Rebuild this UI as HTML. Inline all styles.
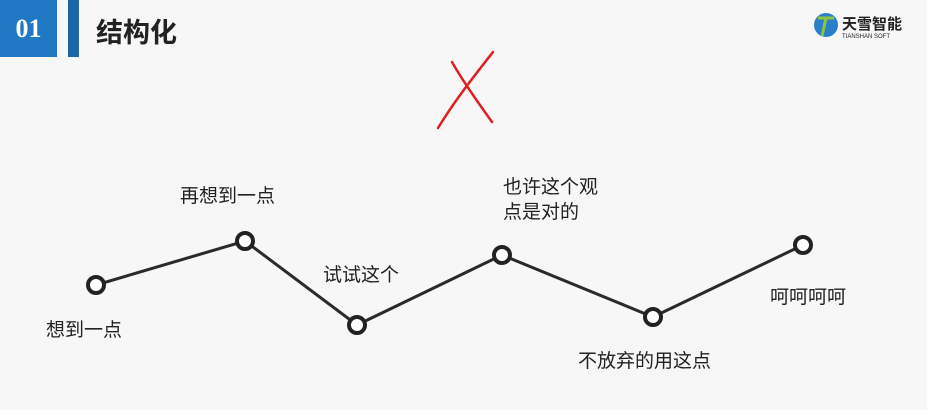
<!DOCTYPE html>
<html><head><meta charset="utf-8"><style>
body{margin:0;width:927px;height:410px;background:#f7f7f7;overflow:hidden;position:relative;font-family:"Liberation Sans","Noto Sans CJK SC",sans-serif}
.t{position:absolute;font-size:19px;color:#222;line-height:25px;white-space:nowrap}
</style></head><body>
<div style="position:absolute;left:0;top:0;width:57px;height:57px;background:#1f78c1;color:#fff;font:bold 26px 'Liberation Serif',serif;text-align:center;line-height:57px">01</div>
<div style="position:absolute;left:68px;top:0;width:11px;height:57px;background:#1a66a8"></div>
<div style="position:absolute;left:96px;top:11px;font-size:27px;font-weight:bold;color:#222;font-family:'Liberation Sans','Noto Sans CJK SC',sans-serif">结构化</div>
<svg style="position:absolute;left:0;top:0" width="927" height="410">
<circle cx="826" cy="25" r="12" fill="#2a7fc8"/>
<path d="M818 18 L834 18 M826 18 L822 36" stroke="#8cc63f" stroke-width="3" fill="none"/>
<text x="842" y="29" font-size="15" font-weight="bold" fill="#222" font-family="Noto Sans CJK SC,sans-serif">天雪智能</text>
<text x="842" y="38" font-size="6" fill="#222" font-family="Liberation Sans,sans-serif">TIANSHAN SOFT</text>
<path d="M452 62 C465 85 480 105 492 122 M493 52 C475 75 455 100 438 128" stroke="#e02020" stroke-width="2.5" fill="none" stroke-linecap="round"/>
<polyline points="96,285 245,241 357,325 502,255 653,317 803,245" fill="none" stroke="#2a2a2a" stroke-width="3"/>
<g fill="#fff" stroke="#222" stroke-width="4">
<circle cx="96" cy="285" r="8"/><circle cx="245" cy="241" r="8"/><circle cx="357" cy="325" r="8"/><circle cx="502" cy="255" r="8"/><circle cx="653" cy="317" r="8"/><circle cx="803" cy="245" r="8"/>
</g></svg>
<div class="t" style="left:46px;top:318px">想到一点</div>
<div class="t" style="left:180px;top:184px">再想到一点</div>
<div class="t" style="left:323px;top:263px">试试这个</div>
<div class="t" style="left:503px;top:175px">也许这个观<br>点是对的</div>
<div class="t" style="left:578px;top:349px">不放弃的用这点</div>
<div class="t" style="left:770px;top:285px">呵呵呵呵</div>
</body></html>
